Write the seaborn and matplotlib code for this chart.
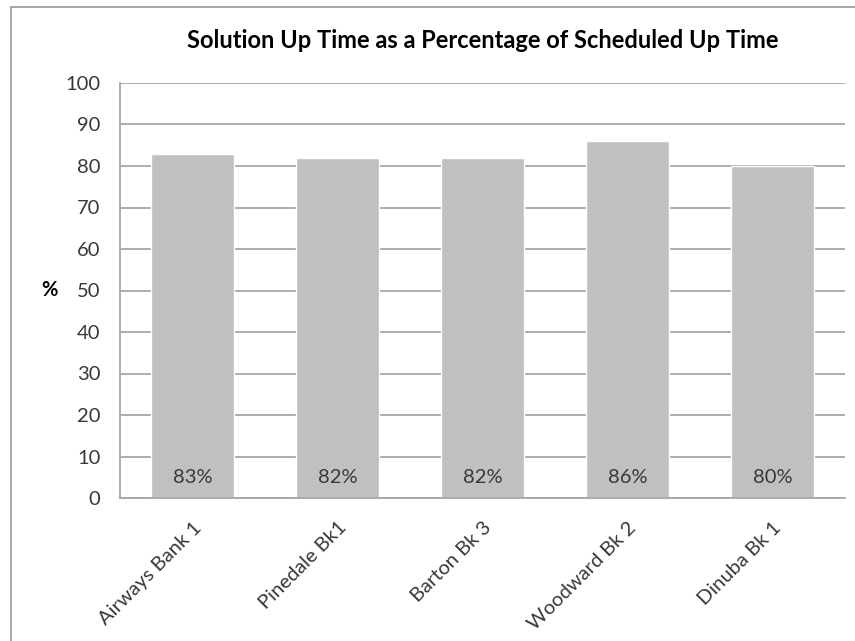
import matplotlib
matplotlib.use("Agg")
import matplotlib.pyplot as plt
from matplotlib.lines import Line2D
import seaborn as sns
import pandas as pd

categories = ["Airways Bank 1", "Pinedale Bk1", "Barton Bk 3", "Woodward Bk 2", "Dinuba Bk 1"]
uptime_pct = [83, 82, 82, 86, 80]
yticks = [0, 10, 20, 30, 40, 50, 60, 70, 80, 90, 100]
title = "Solution Up Time as a Percentage of Scheduled Up Time"

sns.set_theme(style="white")
plt.rcParams["font.family"] = ["Lato", "DejaVu Sans"]

df = pd.DataFrame({"site": categories, "pct": uptime_pct})

W, H = 855, 641
fig = plt.figure(figsize=(W / 100, H / 100), dpi=100)
ax = fig.add_axes([120 / W, 1 - 498 / H, (845 - 120) / W, (498 - 83) / H])

grid_c = "#A6A6A6"
text_c = "#383838"

sns.barplot(data=df, x="site", y="pct", color="#C0C0C0", saturation=1,
            width=0.566, ax=ax, zorder=2)

ax.set_ylim(0, 100)
ax.set_yticks(yticks)
ax.set_xlim(-0.5, len(categories) - 0.5)
ax.yaxis.grid(True, color=grid_c, linewidth=1.3, zorder=0)
ax.set_axisbelow(True)
for side in ["top", "right"]:
    ax.spines[side].set_visible(False)
for side in ["left", "bottom"]:
    ax.spines[side].set_color(grid_c)
    ax.spines[side].set_linewidth(1.3)
ax.tick_params(axis="both", length=0, labelsize=14.5, colors=text_c, pad=14)
ax.tick_params(axis="x", pad=15)
plt.setp(ax.get_xticklabels(), rotation=45, ha="right", rotation_mode="anchor")

ax.set_xlabel("")
ax.set_ylabel("%", rotation=0, fontsize=14.5, fontweight="bold", color="black",
              labelpad=0, va="center", ha="center")
ax.yaxis.set_label_coords(-0.098, 0.5)

for i, v in enumerate(uptime_pct):
    ax.text(i, 5, f"{v}%", ha="center", va="center", fontsize=14.5, color=text_c)

fig.text((120 + 845) / 2 / W, 1 - 41 / H, title, ha="center", va="center",
         fontsize=17, fontweight="bold", color="black")

# chart frame
frame_c = "#A0A0A0"
fig.add_artist(Line2D([11 / W, 11 / W], [0, 1 - 7 / H], color=frame_c, linewidth=1.3))
fig.add_artist(Line2D([11 / W, 1], [1 - 7 / H, 1 - 7 / H], color=frame_c, linewidth=1.3))

fig.savefig("out.png", dpi=100)
